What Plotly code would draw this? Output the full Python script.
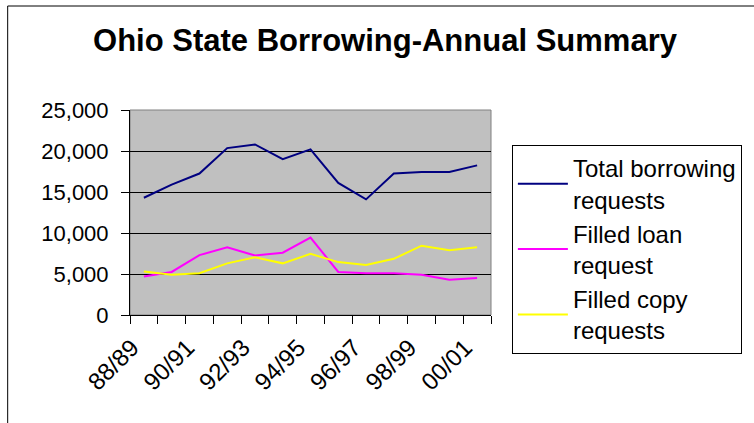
import plotly.graph_objects as go

categories = ["88/89", "89/90", "90/91", "91/92", "92/93", "93/94", "94/95",
              "95/96", "96/97", "97/98", "98/99", "99/00", "00/01"]
tick_labels = ["88/89", "", "90/91", "", "92/93", "", "94/95",
               "", "96/97", "", "98/99", "", "00/01"]
total_borrowing = [14300, 15900, 17250, 20350, 20800, 19000, 20200,
                   16100, 14100, 17250, 17450, 17450, 18250]
filled_loan = [4700, 5250, 7300, 8250, 7250, 7600, 9450,
               5250, 5100, 5100, 4900, 4300, 4500]
filled_copy = [5300, 4900, 5100, 6300, 7050, 6300, 7450,
               6450, 6100, 6850, 8450, 7900, 8250]

series_names = ["Total borrowing<br>requests", "Filled loan<br>request",
                "Filled copy<br>requests"]
series_colors = ["#000080", "#FF00FF", "#FFFF00"]

FONT = "Arial, Liberation Sans, sans-serif"

fig = go.Figure()
for name, vals, col in zip(series_names,
                           [total_borrowing, filled_loan, filled_copy],
                           series_colors):
    fig.add_trace(go.Scatter(x=categories, y=vals, mode="lines", name=name,
                             legendgroup=name,
                             line=dict(color=col, width=2)))

L, R, T, B = 130, 261, 110, 108
W, H = 754, 423
pw = W - L - R
ph = H - T - B

fig.update_layout(
    width=W, height=H,
    margin=dict(l=L, r=R, t=T, b=B),
    paper_bgcolor="white",
    plot_bgcolor="#C0C0C0",
    font=dict(family=FONT, color="black", size=22),
    title=dict(text="<b>Ohio State Borrowing-Annual Summary</b>",
               x=385 / W, xanchor="center", y=1 - 40 / H, yanchor="middle",
               font=dict(family=FONT, size=31, color="black")),
    showlegend=True,
    legend=dict(x=(514 - L) / pw, y=(H - B - 145) / ph, xanchor="left", yanchor="top",
                bgcolor="white", bordercolor="black", borderwidth=1,
                font=dict(family=FONT, size=24, color="black"),
                itemwidth=50, maxheight=400,
                tracegroupgap=2, traceorder="normal"),
    xaxis=dict(type="category", tickmode="array", tickvals=categories,
               ticktext=tick_labels, tickangle=-45, tickson="boundaries",
               range=[-0.5, len(categories) - 0.5],
               ticks="outside", ticklen=8, tickcolor="black", tickwidth=1,
               showline=True, linecolor="black", linewidth=1,
               showgrid=False, zeroline=False, mirror=False,
               ticklabelshift=-12, ticklabelstandoff=8,
               tickfont=dict(family=FONT, size=24, color="black")),
    yaxis=dict(range=[0, 25000], dtick=5000, tickformat=",d",
               ticks="outside", ticklen=8, tickcolor="black", tickwidth=1,
               showline=True, linecolor="black", linewidth=1,
               showgrid=True, gridcolor="black", gridwidth=1,
               zeroline=False, ticklabelstandoff=8,
               tickfont=dict(family=FONT, size=22, color="black")),
)

# plot area border (gray)
fig.add_shape(type="rect", xref="paper", yref="paper", x0=0, x1=1, y0=0, y1=1,
              line=dict(color="#808080", width=1), layer="below")
# outer chart border
fig.add_shape(type="rect", xref="paper", yref="paper",
              x0=(7 - L) / pw, x1=(W + 20 - L) / pw,
              y0=(H - B - (H + 20)) / ph, y1=(H - B - 6) / ph,
              line=dict(color="black", width=1))

fig.write_html("out.html")
